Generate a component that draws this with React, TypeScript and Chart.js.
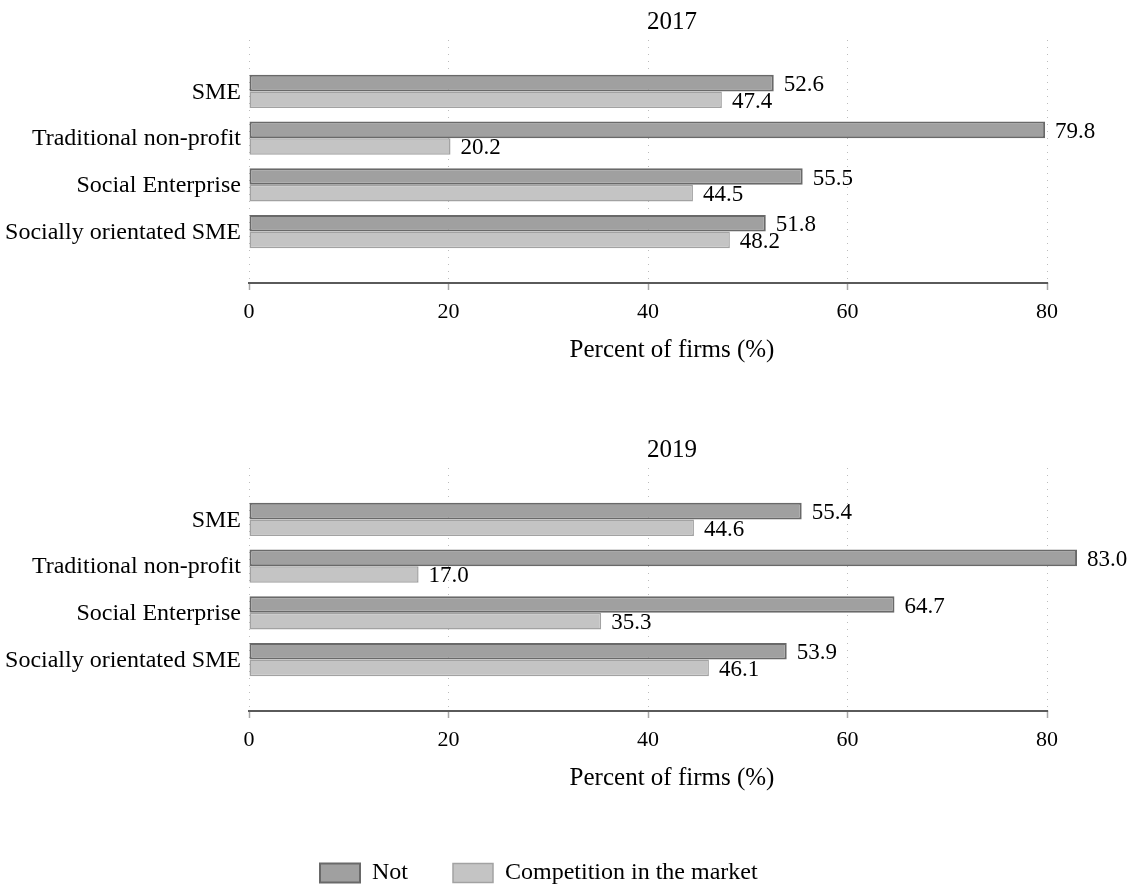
import React, { useEffect, useRef } from 'react';
import { Chart, registerables } from 'chart.js';

Chart.register(...registerables);

const categories = ['SME', 'Traditional non-profit', 'Social Enterprise', 'Socially orientated SME'];
const seriesNames = ['Not', 'Competition in the market'];
const not2017 = [52.6, 79.8, 55.5, 51.8];
const comp2017 = [47.4, 20.2, 44.5, 48.2];
const not2019 = [55.4, 83.0, 64.7, 53.9];
const comp2019 = [44.6, 17.0, 35.3, 46.1];
const xTicks = [0, 20, 40, 60, 80];
const axisTitle = 'Percent of firms (%)';

const FONT = "'Liberation Serif', 'Times New Roman', serif";

const decorPlugin = {
  id: 'decor',
  afterDatasetsDraw(chart: any) {
    const ctx = chart.ctx;
    ctx.save();
    ctx.font = `23px ${FONT}`;
    ctx.fillStyle = '#000';
    ctx.textBaseline = 'middle';
    ctx.textAlign = 'left';
    chart.data.datasets.forEach((ds: any, i: number) => {
      const meta = chart.getDatasetMeta(i);
      meta.data.forEach((el: any, j: number) => {
        const v = ds.data[j].x as number;
        ctx.fillText(v.toFixed(1), el.x + 10, el.y + 2);
      });
    });
    const xs = chart.scales.x;
    const y = chart.chartArea.bottom;
    ctx.strokeStyle = '#5a5a5a';
    ctx.lineWidth = 2;
    ctx.beginPath();
    ctx.moveTo(xs.getPixelForValue(xTicks[0]) - 1, y);
    ctx.lineTo(xs.getPixelForValue(xTicks[xTicks.length - 1]) + 1, y);
    ctx.stroke();
    ctx.restore();
  },
};

const legendPlacePlugin = {
  id: 'legendPlace',
  afterLayout(chart: any) {
    const lg = chart.legend;
    if (lg && lg.options.display) {
      lg.left = 275;
      lg.top = 388;
    }
  },
};

function makeConfig(title: string, notVals: number[], compVals: number[], withLegend: boolean): any {
  return {
    type: 'bar',
    data: {
      datasets: [
        {
          label: seriesNames[0],
          data: notVals.map((v, i) => ({ x: v, y: i })),
          backgroundColor: '#a0a0a0',
          borderColor: '#696969',
          borderWidth: 2,
          borderSkipped: false,
        },
        {
          label: seriesNames[1],
          data: compVals.map((v, i) => ({ x: v, y: i })),
          backgroundColor: '#c4c4c4',
          borderColor: '#a2a2a2',
          borderWidth: 1.5,
          borderSkipped: false,
        },
      ],
    },
    options: {
      indexAxis: 'y',
      responsive: false,
      animation: false,
      categoryPercentage: 0.71,
      barPercentage: 1.0,
      layout: { padding: { left: 0, right: 34, top: 0, bottom: 0 } },
      plugins: {
        title: {
          display: true,
          text: title,
          fullSize: false,
          color: '#000',
          font: { family: FONT, size: 25, weight: 'normal' },
          padding: { top: 7, bottom: 3 },
        },
        legend: {
          display: withLegend,
          position: 'bottom',
          align: 'start',
          maxHeight: 41,
          labels: {
            color: '#000',
            font: { family: FONT, size: 24 },
            boxWidth: 40,
            boxHeight: 19,
            padding: 45,
          },
        },
        tooltip: { enabled: false },
      },
      scales: {
        x: {
          type: 'linear',
          position: 'bottom',
          min: 0,
          max: 84.8,
          afterBuildTicks: (s: any) => {
            s.ticks = xTicks.map((v) => ({ value: v }));
          },
          afterFit: (s: any) => {
            s.height = 137;
          },
          grid: {
            display: true,
            drawOnChartArea: true,
            drawTicks: true,
            color: '#bdbdbd',
            lineWidth: 1,
            tickLength: 7,
            tickColor: '#a8a8a8',
            tickWidth: 1.5,
            tickBorderDash: [],
          },
          border: { display: false, dash: [1, 6] },
          ticks: {
            color: '#000',
            font: { family: FONT, size: 22 },
            padding: 9,
            maxRotation: 0,
          },
          title: {
            display: true,
            text: axisTitle,
            color: '#000',
            font: { family: FONT, size: 25 },
            padding: { top: 4, bottom: 55 },
          },
        },
        y: {
          type: 'linear',
          reverse: true,
          min: -1.1,
          max: 4.1,
          offset: false,
          afterBuildTicks: (s: any) => {
            s.ticks = categories.map((_, i) => ({ value: i }));
          },
          afterFit: (s: any) => {
            s.width = 249;
          },
          grid: { display: false, drawTicks: false, offset: false },
          border: { display: false },
          ticks: {
            color: '#000',
            font: { family: FONT, size: 24 },
            padding: 8,
            labelOffset: 1,
            callback: (v: any) => categories[Math.round(Number(v))] ?? '',
          },
        },
      },
    },
    plugins: withLegend ? [decorPlugin, legendPlacePlugin] : [decorPlugin],
  };
}

export default function App() {
  const ref1 = useRef<HTMLCanvasElement | null>(null);
  const ref2 = useRef<HTMLCanvasElement | null>(null);

  useEffect(() => {
    if (!ref1.current || !ref2.current) return;
    const c1 = new Chart(ref1.current, makeConfig('2017', not2017, comp2017, false));
    const c2 = new Chart(ref2.current, makeConfig('2019', not2019, comp2019, true));
    return () => {
      c1.destroy();
      c2.destroy();
    };
  }, []);

  return (
    <div style={{ position: 'absolute', left: 0, top: 0, width: 1129, height: 889, background: '#fff' }}>
      <canvas ref={ref1} width={1129} height={420} style={{ position: 'absolute', left: 0, top: 0, display: 'block' }} />
      <canvas ref={ref2} width={1129} height={461} style={{ position: 'absolute', left: 0, top: 428, display: 'block' }} />
    </div>
  );
}
